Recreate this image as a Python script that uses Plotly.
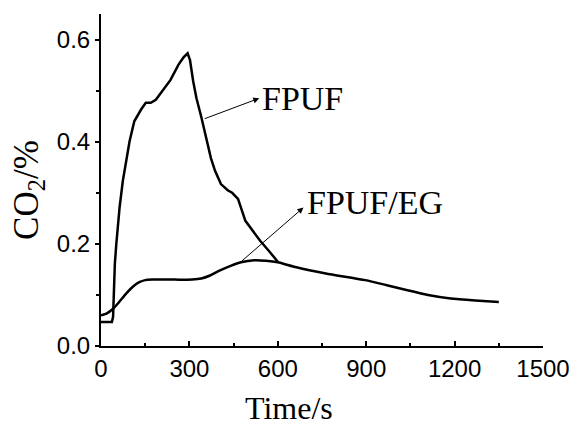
import plotly.graph_objects as go

# FPUF series
fpuf_t = [0, 20, 37, 41, 44, 47, 52, 63, 74, 86, 97, 113, 136, 152, 169, 186, 213, 236, 263, 280, 294,
          302, 313, 324, 341, 363, 373, 387, 407, 430, 445, 455, 465, 490, 515, 540, 570, 600]
fpuf_v = [0.047, 0.047, 0.047, 0.057, 0.11, 0.161, 0.2, 0.271, 0.323, 0.362, 0.401, 0.44, 0.463, 0.476,
          0.476, 0.482, 0.502, 0.521, 0.551, 0.565, 0.573, 0.56, 0.518, 0.485, 0.447, 0.388, 0.368, 0.343,
          0.317, 0.305, 0.300, 0.294, 0.288, 0.245, 0.226, 0.206, 0.186, 0.165]

# FPUF/EG series
eg_t = [0, 20, 41, 60, 86, 110, 130, 150, 174, 250, 310, 340, 370, 400, 440, 475, 520, 560, 600, 663, 763,
        897, 970, 1040, 1110, 1187, 1270, 1350]
eg_v = [0.06, 0.064, 0.073, 0.085, 0.103, 0.117, 0.125, 0.129, 0.13, 0.13, 0.13, 0.132, 0.138, 0.147,
        0.157, 0.164, 0.168, 0.167, 0.164, 0.154, 0.142, 0.129, 0.119, 0.109, 0.1, 0.093, 0.089, 0.086]

x_ticks = [0, 300, 600, 900, 1200, 1500]
y_ticks = [0.0, 0.2, 0.4, 0.6]
y_tick_text = ["0.0", "0.2", "0.4", "0.6"]

fig = go.Figure()
fig.add_trace(go.Scatter(x=fpuf_t, y=fpuf_v, mode="lines",
                         line=dict(color="black", width=2.5), showlegend=False))
fig.add_trace(go.Scatter(x=eg_t, y=eg_v, mode="lines",
                         line=dict(color="black", width=2.5, shape="spline", smoothing=0.6),
                         showlegend=False))

serif = "Liberation Serif, Times New Roman, serif"
sans = "Liberation Sans, Arial, sans-serif"

# arrows (head at the label side)
fig.add_annotation(x=537, y=0.485, ax=347, ay=0.444, xref="x", yref="y", axref="x", ayref="y",
                   text="", showarrow=True, arrowhead=2, arrowsize=1.2, arrowwidth=1, arrowcolor="black")
fig.add_annotation(x=540, y=0.485, xref="x", yref="y", text="FPUF", showarrow=False,
                   xanchor="left", yanchor="middle", font=dict(family=serif, size=34, color="black"))
fig.add_annotation(x=687, y=0.271, ax=473, ay=0.164, xref="x", yref="y", axref="x", ayref="y",
                   text="", showarrow=True, arrowhead=2, arrowsize=1.2, arrowwidth=1, arrowcolor="black")
fig.add_annotation(x=693, y=0.281, xref="x", yref="y", text="FPUF/EG", showarrow=False,
                   xanchor="left", yanchor="middle", font=dict(family=serif, size=34, color="black"))

# axis titles as annotations
fig.add_annotation(x=-0.163, y=0.47, xref="paper", yref="paper", text="CO<sub>2</sub>/%",
                   showarrow=False, textangle=-90, xanchor="center", yanchor="middle",
                   font=dict(family=serif, size=35, color="black"))
fig.add_annotation(x=0.425, y=-0.126, xref="paper", yref="paper", text="Time/s",
                   showarrow=False, xanchor="center", yanchor="top",
                   font=dict(family=serif, size=32, color="black"))

fig.update_layout(
    width=582, height=425,
    margin=dict(l=101, r=32, t=14, b=79),
    paper_bgcolor="white", plot_bgcolor="white",
    xaxis=dict(range=[0, 1500], tickvals=x_ticks, ticks="inside", ticklen=5, tickwidth=1.5,
               tickcolor="black", showline=True, linecolor="black", linewidth=2, showgrid=False,
               zeroline=False, tickfont=dict(family=sans, size=24, color="black"),
               minor=dict(tickvals=[150, 450, 750, 1050, 1350], ticks="inside", ticklen=3,
                          tickcolor="black", tickwidth=1.5)),
    yaxis=dict(range=[0, 0.65], tickvals=y_ticks, ticktext=y_tick_text, ticks="outside", ticklen=4,
               tickwidth=1.5, tickcolor="black", showline=True, linecolor="black", linewidth=2,
               showgrid=False, zeroline=False, tickfont=dict(family=sans, size=24, color="black"),
               minor=dict(tickvals=[0.1, 0.3, 0.5], ticks="outside", ticklen=3, tickcolor="black",
                          tickwidth=1.5)),
)

fig.write_html("out.html", config={"displayModeBar": False},
               post_script="document.body.style.margin='0px';")
